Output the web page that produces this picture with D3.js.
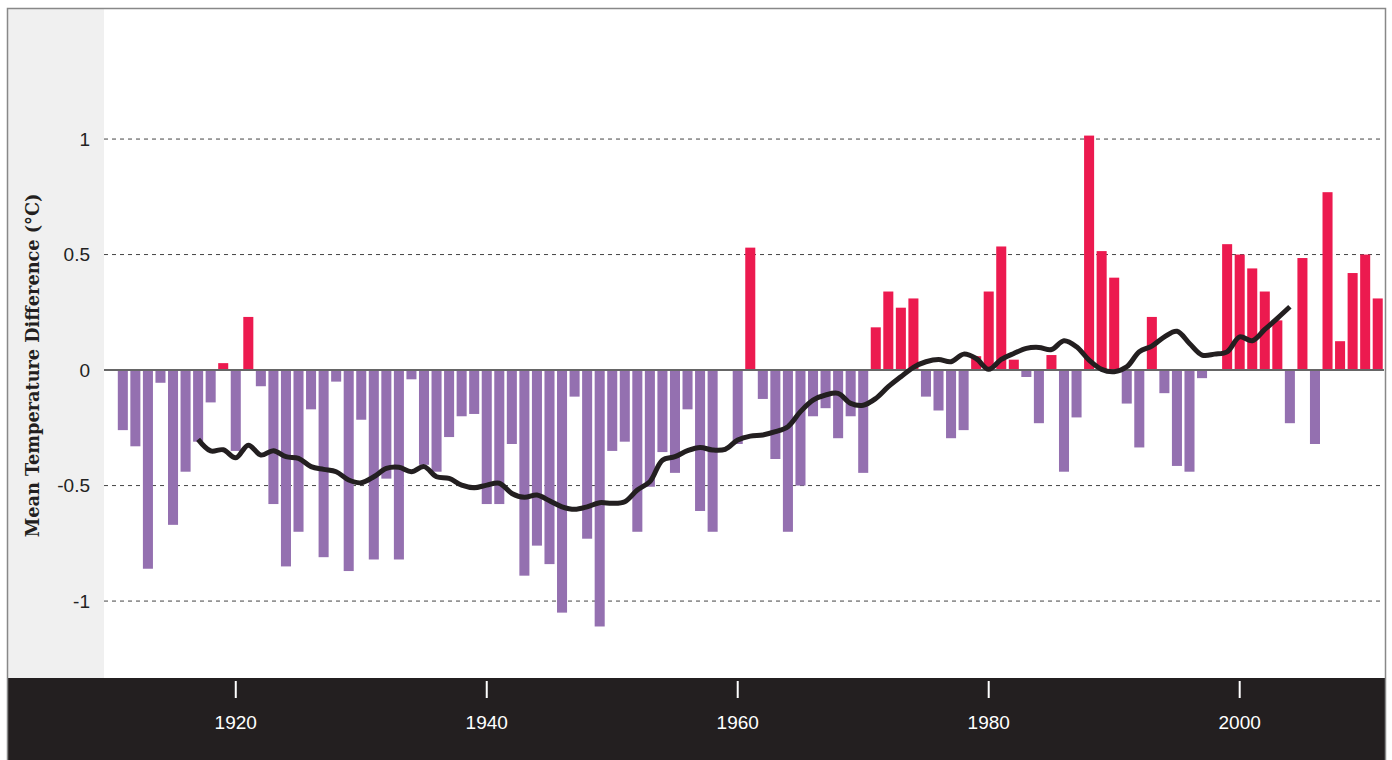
<!DOCTYPE html>
<html>
<head>
<meta charset="utf-8">
<script src="https://cdn.jsdelivr.net/npm/d3@7"></script>
<style>
  html, body { margin: 0; padding: 0; background: #fff; }
  svg { display: block; }
</style>
</head>
<body>
<svg id="chart" width="1392" height="760"></svg>
<script>
// annual anomaly, one value per year from 1911 (null = no bar)
const firstYear = 1911;
const anomalies = [
  -0.26, -0.33, -0.86, -0.055, -0.67, -0.44, -0.31, -0.14, 0.03, -0.35,   // 1911-1920
  0.23, -0.07, -0.58, -0.85, -0.70, -0.17, -0.81, -0.05, -0.87, -0.215,   // 1921-1930
  -0.82, -0.47, -0.82, -0.04, -0.41, -0.44, -0.29, -0.20, -0.19, -0.58,   // 1931-1940
  -0.58, -0.32, -0.89, -0.76, -0.84, -1.05, -0.115, -0.73, -1.11, -0.35,  // 1941-1950
  -0.31, -0.70, -0.505, -0.355, -0.445, -0.17, -0.61, -0.70, null, -0.32, // 1951-1960
  0.53, -0.125, -0.385, -0.70, -0.50, -0.20, -0.165, -0.295, -0.20, -0.445, // 1961-1970
  0.185, 0.34, 0.27, 0.31, -0.115, -0.175, -0.295, -0.26, 0.06, 0.34,    // 1971-1980
  0.535, 0.045, -0.03, -0.23, 0.065, -0.44, -0.205, 1.015, 0.515, 0.40,  // 1981-1990
  -0.145, -0.335, 0.23, -0.10, -0.415, -0.44, -0.035, null, 0.545, 0.50, // 1991-2000
  0.44, 0.34, 0.215, -0.23, 0.485, -0.32, 0.77, 0.125, 0.42, 0.50,       // 2001-2010
  0.31                                                                   // 2011
];

// smoothed trend, one value per year from 1917
const trendStart = 1917;
const trend = [
  -0.30, -0.35, -0.345, -0.38, -0.325, -0.368, -0.349, -0.375, -0.382, -0.418, // 1917-1926
  -0.43, -0.44, -0.476, -0.488, -0.462, -0.426, -0.421, -0.44, -0.418, -0.462, // 1927-1936
  -0.469, -0.498, -0.509, -0.498, -0.49, -0.534, -0.551, -0.541, -0.566, -0.592, // 1937-1946
  -0.603, -0.592, -0.574, -0.577, -0.57, -0.519, -0.483, -0.39, -0.375, -0.349, // 1947-1956
  -0.335, -0.346, -0.343, -0.303, -0.286, -0.281, -0.267, -0.245, -0.18, -0.13, // 1957-1966
  -0.108, -0.101, -0.144, -0.152, -0.123, -0.072, -0.029, 0.012, 0.036, 0.046,  // 1967-1976
  0.036, 0.069, 0.05, 0.003, 0.046, 0.072, 0.094, 0.098, 0.089, 0.127,         // 1977-1986
  0.101, 0.043, 0.003, -0.007, 0.014, 0.079, 0.104, 0.144, 0.168, 0.115,        // 1987-1996
  0.065, 0.069, 0.079, 0.144, 0.127, 0.176, 0.224, 0.274                        // 1997-2004
];

const yTicks = [1, 0.5, 0, -0.5, -1];
const xTicks = [1920, 1940, 1960, 1980, 2000];

const bars = anomalies
  .map((v, i) => ({ year: firstYear + i, value: v }))
  .filter((d) => d.value !== null);
const trendPts = trend.map((v, i) => ({ year: trendStart + i, value: v }));

const W = 1392, H = 760;
const plot = { left: 104, right: 1384, top: 9, bottom: 678 };

const svg = d3.select("#chart");

const x = d3.scaleLinear().domain([1909.5, 2011.5]).range([plot.left, plot.right]);
const y = d3.scaleLinear().domain([-1.333, 1.563]).range([plot.bottom, plot.top]);
const barW = (x(1) - x(0)) * 0.8;

// grey panel for the y labels
svg.append("rect")
  .attr("x", 8).attr("y", plot.top)
  .attr("width", plot.left - 8).attr("height", plot.bottom - plot.top)
  .attr("fill", "#f0f0f0");

// gridlines
svg.append("g")
  .selectAll("line")
  .data(yTicks.filter((t) => t !== 0))
  .enter()
  .append("line")
  .attr("x1", plot.left).attr("x2", plot.right)
  .attr("y1", (d) => y(d)).attr("y2", (d) => y(d))
  .attr("stroke", "#444")
  .attr("stroke-width", 1)
  .attr("stroke-dasharray", "4,4");

// y labels
svg.append("g")
  .selectAll("text")
  .data(yTicks)
  .enter()
  .append("text")
  .attr("x", 90)
  .attr("y", (d) => y(d))
  .attr("dy", "0.35em")
  .attr("text-anchor", "end")
  .attr("fill", "#222")
  .attr("font-family", "'Liberation Sans', Arial, sans-serif")
  .attr("font-size", 19)
  .text((d) => d);

svg.append("text")
  .attr("transform", `translate(39,${(y(1.563) + y(-1.333)) / 2 + 22}) rotate(-90)`)
  .attr("text-anchor", "middle")
  .attr("fill", "#231f20")
  .attr("font-family", "'DejaVu Serif', serif")
  .attr("font-weight", "bold")
  .attr("font-size", 17.7)
  .text("Mean Temperature Difference (°C)");

// bars
svg.append("g")
  .selectAll("rect")
  .data(bars)
  .enter()
  .append("rect")
  .attr("x", (d) => x(d.year) - barW / 2)
  .attr("y", (d) => y(Math.max(0, d.value)))
  .attr("width", barW)
  .attr("height", (d) => Math.abs(y(d.value) - y(0)))
  .attr("fill", (d) => (d.value >= 0 ? "#ec1a4f" : "#9470b0"));

// zero line
svg.append("line")
  .attr("x1", plot.left).attr("x2", plot.right)
  .attr("y1", y(0)).attr("y2", y(0))
  .attr("stroke", "#666")
  .attr("stroke-width", 2);

// trend line
const line = d3.line()
  .x((d) => x(d.year))
  .y((d) => y(d.value))
  .curve(d3.curveCatmullRom.alpha(0.5));

svg.append("path")
  .datum(trendPts)
  .attr("d", line)
  .attr("fill", "none")
  .attr("stroke", "#231f20")
  .attr("stroke-width", 5)
  .attr("stroke-linejoin", "round");

// x axis band
svg.append("rect")
  .attr("x", 8).attr("y", plot.bottom)
  .attr("width", plot.right + 1 - 8).attr("height", H - plot.bottom)
  .attr("fill", "#231f20");

const xAxis = svg.append("g");
xAxis.selectAll("line")
  .data(xTicks)
  .enter()
  .append("line")
  .attr("x1", (d) => x(d)).attr("x2", (d) => x(d))
  .attr("y1", plot.bottom + 3).attr("y2", plot.bottom + 20)
  .attr("stroke", "#fff")
  .attr("stroke-width", 2);

xAxis.selectAll("text")
  .data(xTicks)
  .enter()
  .append("text")
  .attr("x", (d) => x(d))
  .attr("y", plot.bottom + 51)
  .attr("text-anchor", "middle")
  .attr("fill", "#fff")
  .attr("font-family", "'Liberation Sans', Arial, sans-serif")
  .attr("font-size", 19)
  .text((d) => d);

// frame
svg.append("path")
  .attr("d", `M7.5,${H} V8.5 H${plot.right + 1.5} V${H}`)
  .attr("fill", "none")
  .attr("stroke", "#888")
  .attr("stroke-width", 1.5);
</script>
</body>
</html>
